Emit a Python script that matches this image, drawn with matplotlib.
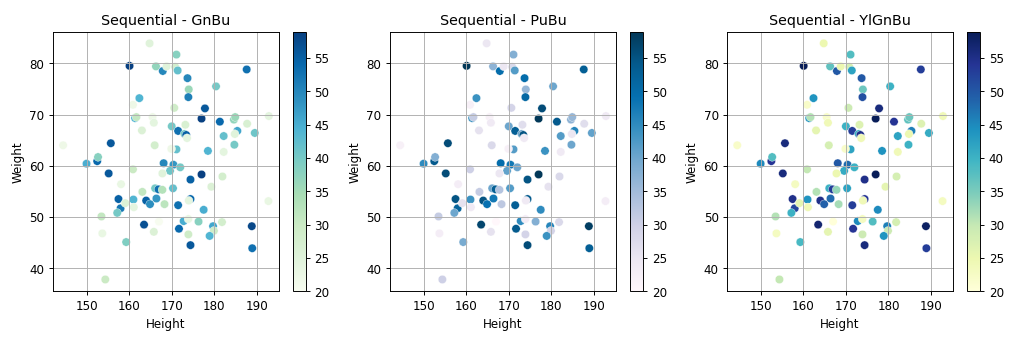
import matplotlib
matplotlib.use("Agg")
import matplotlib.pyplot as plt

# height, weight, age
height = [164.8, 171.1, 160.1, 166.3, 167.9, 168.8, 170.8, 171.4, 187.6, 173.7,
          174.0, 173.9, 180.4, 162.4, 160.9, 170.6, 177.8, 177.0, 181.3, 184.6,
          184.9, 187.7, 192.8, 161.4, 161.7, 165.5, 165.8, 163.0, 170.0, 171.5,
          173.2, 173.0, 173.4, 173.6, 182.2, 185.4, 184.8, 189.5, 155.7, 166.0,
          171.1, 169.9, 178.5, 182.2, 184.7, 144.5, 150.0, 152.5, 152.7, 155.2,
          160.9, 168.1, 170.4, 169.6, 172.0, 167.8, 174.4, 177.0, 181.9, 158.1,
          179.3, 163.1, 166.1, 166.9, 167.8, 166.4, 170.3, 157.5, 158.0, 157.2,
          159.1, 161.0, 161.1, 164.0, 164.9, 168.3, 171.5, 174.4, 174.0, 177.5,
          192.7, 153.5, 163.5, 167.0, 172.8, 173.9, 171.7, 176.3, 179.7, 179.9,
          178.9, 181.8, 188.8, 188.9, 153.7, 165.8, 173.9, 174.4, 159.3, 154.4]
weight = [83.9, 81.7, 79.5, 79.4, 78.5, 79.4, 79.3, 78.6, 78.8, 77.1,
          74.9, 73.4, 75.5, 73.2, 71.9, 71.3, 71.2, 69.2, 68.6, 69.0,
          69.5, 68.2, 69.7, 69.3, 69.5, 69.5, 68.4, 66.9, 67.7, 66.8,
          68.0, 66.2, 66.0, 65.4, 65.8, 66.8, 66.2, 66.4, 64.4, 64.0,
          63.2, 63.3, 62.9, 62.7, 64.1, 64.0, 60.4, 60.9, 61.7, 58.5,
          59.3, 60.5, 60.2, 59.0, 59.7, 58.5, 57.3, 58.3, 57.9, 56.4,
          55.9, 54.9, 55.6, 55.4, 55.3, 53.6, 55.6, 53.5, 51.7, 50.8,
          52.7, 53.4, 51.9, 53.2, 52.5, 52.5, 52.3, 53.5, 53.2, 51.4,
          53.1, 50.1, 48.5, 49.1, 49.2, 49.6, 47.7, 49.1, 48.2, 47.3,
          46.3, 49.0, 48.2, 43.9, 46.8, 47.1, 46.6, 44.5, 45.1, 37.8]
age = [25, 38, 59, 37, 50, 25, 28, 42, 53, 50,
       36, 51, 40, 44, 22, 29, 56, 59, 54, 37,
       36, 27, 24, 44, 31, 22, 24, 26, 40, 53,
       27, 40, 55, 24, 42, 46, 25, 41, 56, 28,
       42, 22, 44, 24, 40, 22, 45, 54, 38, 56,
       30, 50, 48, 41, 40, 25, 55, 59, 28, 23,
       26, 31, 40, 53, 33, 48, 42, 55, 52, 40,
       26, 44, 24, 55, 49, 32, 53, 54, 24, 45,
       23, 31, 57, 20, 45, 23, 54, 38, 46, 29,
       44, 28, 58, 53, 23, 26, 29, 56, 39, 30]

cmaps = ["GnBu", "PuBu", "YlGnBu"]

fig, axes = plt.subplots(1, 3, figsize=(12, 4))
for ax, cmap in zip(axes, cmaps):
    sc = ax.scatter(height, weight, c=age, cmap=cmap, s=50,
                    edgecolors="white", linewidths=0.3)
    fig.colorbar(sc, ax=ax)
    ax.set_title(f"Sequential - {cmap}")
    ax.set_xlabel("Height")
    ax.set_ylabel("Weight")
    ax.grid(True)

plt.tight_layout()
plt.savefig("out.png", dpi=1024 / 12)
